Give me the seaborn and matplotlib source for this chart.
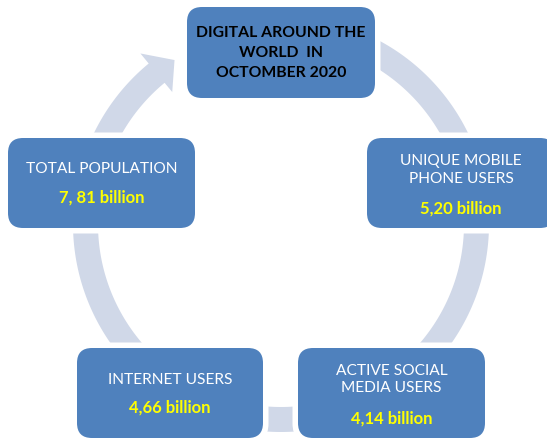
import numpy as np
import matplotlib.pyplot as plt
import seaborn as sns
from matplotlib.patches import FancyBboxPatch, Polygon

# Chart content
title_lines = ["DIGITAL AROUND THE", "WORLD  IN", "OCTOMBER 2020"]
labels = ["TOTAL POPULATION", "UNIQUE MOBILE\nPHONE USERS", "ACTIVE SOCIAL\nMEDIA USERS", "INTERNET USERS"]
values = ["7, 81 billion", "5,20 billion", "4,14 billion", "4,66 billion"]

# Layout (pixel coordinates, y downwards)
title_box = (187, 7, 188, 91)
boxes = [(8, 138, 187, 90), (367, 138, 188, 90), (298, 348, 187, 90), (77, 348, 186, 90)]
label_y = [169, 170, 379.5, 380]
value_y = [198, 209, 419, 408]
title_y = [33, 53, 73]

blue = "#4F81BD"
ring_col = "#D0D8E8"

sns.set_theme(style="white")
plt.rcParams["font.family"] = ["Lato", "DejaVu Sans"]

fig, ax = plt.subplots(figsize=(5.47, 4.38), dpi=100)
ax.set_position([0, 0, 1, 1])
ax.set_xlim(0, 547)
ax.set_ylim(438, 0)
ax.axis("off")

# circular arrow
cx, cy = 281, 224
r_out, r_in = 208, 183
th_base, th_tip, th_tail = 129.5, 123, 455
arc = np.radians(np.linspace(th_tail, th_base, 300))
outer = np.c_[cx + r_out * np.cos(arc), cy - r_out * np.sin(arc)]
inner = np.c_[cx + r_in * np.cos(arc[::-1]), cy - r_in * np.sin(arc[::-1])]
b, t = np.radians(th_base), np.radians(th_tip)
head = np.array([
    [cx + 221 * np.cos(b), cy - 221 * np.sin(b)],
    [cx + 195.5 * np.cos(t), cy - 195.5 * np.sin(t)],
    [cx + 171 * np.cos(b), cy - 171 * np.sin(b)],
])
ring = np.vstack([outer, head, inner])
ax.add_patch(Polygon(ring, closed=True, facecolor=ring_col, edgecolor="none", zorder=1))


def draw_box(x, y, w, h):
    ax.add_patch(FancyBboxPatch((x, y), w, h, boxstyle="round,pad=5.5,rounding_size=20",
                                facecolor="white", edgecolor="none", zorder=2))
    ax.add_patch(FancyBboxPatch((x, y), w, h, boxstyle="round,pad=0,rounding_size=15",
                                facecolor=blue, edgecolor="none", zorder=3))


x, y, w, h = title_box
draw_box(x, y, w, h)
for line, ty in zip(title_lines, title_y):
    ax.text(x + w / 2, ty, line, ha="center", va="center", fontsize=11.3,
            fontweight="bold", color="black", zorder=4)

for (x, y, w, h), lab, val, ly, vy in zip(boxes, labels, values, label_y, value_y):
    draw_box(x, y, w, h)
    ax.text(x + w / 2, ly, lab, ha="center", va="center", fontsize=11.2,
            color="white", linespacing=1.32, zorder=4)
    ax.text(x + w / 2, vy, val, ha="center", va="center", fontsize=12,
            fontweight="bold", color="#FFFF00", zorder=4)

plt.savefig("out.png", dpi=100)
